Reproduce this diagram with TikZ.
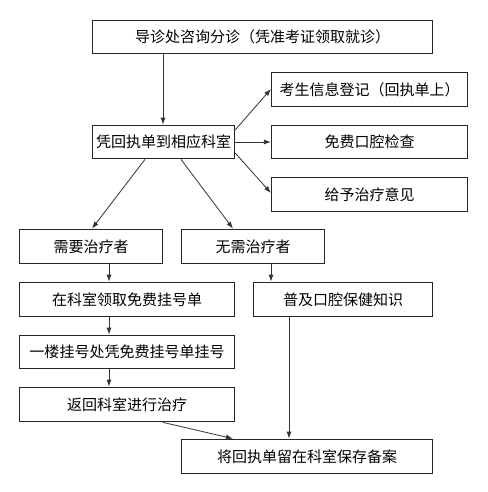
\documentclass[tikz,border=0pt]{standalone}
\usepackage{fontspec}
\setmainfont{Noto Sans CJK SC}
\usetikzlibrary{arrows.meta}
\begin{document}
\begin{tikzpicture}[x=1bp,y=-1bp,
  box/.style={draw=black!85, line width=0.9bp, inner sep=0pt, font=\fontsize{15bp}{18bp}\selectfont},
  arr/.style={draw=black!80, line width=0.8bp, -{Latex[length=7bp,width=5bp]}}]
\useasboundingbox (0,0) rectangle (488,492);
\fill[white] (0,0) rectangle (488,492);
\newcommand\bx[6]{\node[box, minimum width=#4-#2, minimum height=#5-#3] (#1) at ({(#2+#4)/2},{(#3+#5)/2}) {#6};}
\bx{a}{92}{20}{433}{54}{导诊处咨询分诊（凭准考证领取就诊）}
\bx{b}{92}{125}{235}{159}{凭回执单到相应科室}
\bx{r1}{271}{72}{468}{107}{考生信息登记（回执单上）}
\bx{r2}{271}{125}{468}{159}{免费口腔检查}
\bx{r3}{271}{177}{468}{212}{给予治疗意见}
\bx{n1}{19}{229}{163}{264}{需要治疗者}
\bx{n2}{181}{229}{325}{264}{无需治疗者}
\bx{c1}{19}{282}{235}{317}{在科室领取免费挂号单}
\bx{d1}{253}{282}{433}{317}{普及口腔保健知识}
\bx{c2}{19}{335}{235}{369}{一楼挂号处凭免费挂号单挂号}
\bx{c3}{19}{387}{235}{422}{返回科室进行治疗}
\bx{e}{181}{439}{433}{474}{将回执单留在科室保存备案}
\draw[arr] (a.south -| 163,0) -- (b.north -| 163,0);
\draw[arr] (b.east |- 0,130) -- (r1.west |- 0,89);
\draw[arr] (b.east) -- (r2.west);
\draw[arr] (b.east |- 0,153) -- (r3.west |- 0,193);
\draw[arr] (b.south -| 145,0) -- (n1.north -| 92,0);
\draw[arr] (b.south -| 181,0) -- (n2.north -| 233,0);
\draw[arr] (n1.south -| 109,0) -- (c1.north -| 109,0);
\draw[arr] (c1.south -| 109,0) -- (c2.north -| 109,0);
\draw[arr] (c2.south -| 109,0) -- (c3.north -| 109,0);
\draw[arr] (n2.south -| 271,0) -- (d1.north -| 271,0);
\draw[arr] (d1.south -| 289,0) -- (e.north -| 289,0);
\draw[arr] (c3.south -| 163,0) -- (e.north -| 233,0);
\end{tikzpicture}
\end{document}
